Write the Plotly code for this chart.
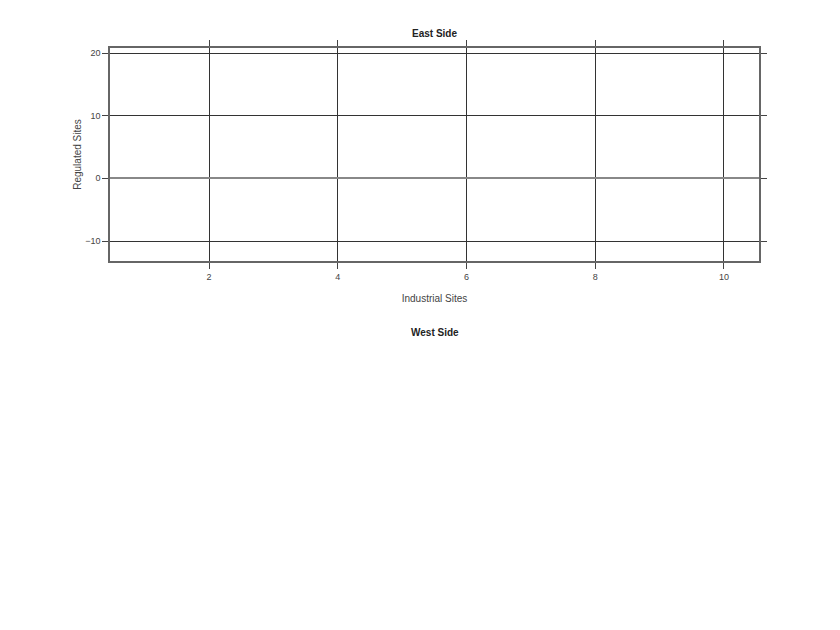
import plotly.graph_objects as go

# ---- data ----
panel_titles = ["East Side", "West Side"]
x_title = "Industrial Sites"
y_title = "Regulated Sites"
x_tickvals = [2, 4, 6, 8, 10]
y_tickvals = [-10, 0, 10, 20]
x_range = [0.462, 10.544]
y_range = [-13.19, 20.8]

W, H = 840, 630
mt, mb, ml, mr = 48, 69, 110, 81
plot_h = H - mt - mb
row1_h = 213 / plot_h
row2_top = (H - mb - 344) / plot_h

fig = go.Figure()

axis_common = dict(
    showline=True, linecolor="#666666", linewidth=1.5, mirror="ticks",
    ticks="outside", ticklen=6, tickwidth=1, tickcolor="#444444",
    showgrid=True, gridcolor="#333333", gridwidth=1,
    tickfont=dict(family="Liberation Sans, Arial", size=9, color="#444444"),
)

fig.update_layout(
    width=W, height=H,
    margin=dict(t=mt, b=mb, l=ml, r=mr),
    paper_bgcolor="white", plot_bgcolor="white",
    showlegend=False,
    font=dict(family="Liberation Sans, Arial", color="#444444"),
    xaxis=dict(domain=[0, 1], anchor="y", range=x_range, tickvals=x_tickvals,
               zeroline=False,
               title=dict(text=x_title, font=dict(size=10, color="#444444"), standoff=14),
               **axis_common),
    yaxis=dict(domain=[1 - row1_h, 1], anchor="x", range=y_range, tickvals=y_tickvals,
               zeroline=True, zerolinecolor="#888888", zerolinewidth=2,
               title=dict(text=y_title, font=dict(size=10, color="#444444"), standoff=2),
               **axis_common),
    xaxis2=dict(domain=[0, 1], anchor="y2", visible=False),
    yaxis2=dict(domain=[0, row2_top], anchor="x2", visible=False),
)

tops = [1, row2_top]
shifts = [7, 4]
for t, ytop, ys in zip(panel_titles, tops, shifts):
    fig.add_annotation(
        text="<b>%s</b>" % t, xref="paper", yref="paper", x=0.5, y=ytop,
        xanchor="center", yanchor="bottom", showarrow=False, yshift=ys,
        font=dict(family="Liberation Sans, Arial", size=10, color="#222222"),
    )

fig.write_html("out.html")
